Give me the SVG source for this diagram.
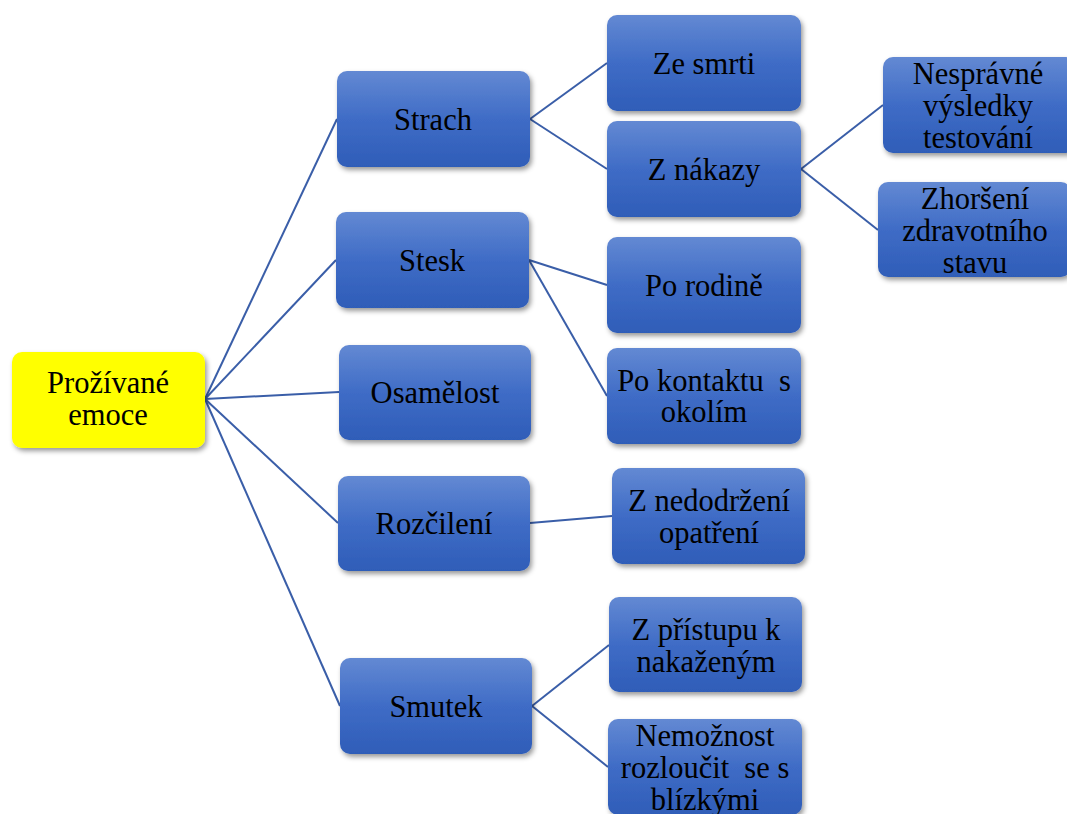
<svg xmlns="http://www.w3.org/2000/svg" width="1067" height="814" viewBox="0 0 1067 814">
<style>
.n{fill:url(#bg);filter:url(#sh)}
.r{fill:#ffff00;filter:url(#sh)}
text{font-family:"Liberation Serif","DejaVu Serif",serif;font-size:30.5px;fill:#000;text-anchor:middle}
.c line{stroke:#3a5ea8;stroke-width:2;fill:none}
</style>
<defs>
<linearGradient id="bg" x1="0" y1="0" x2="0" y2="1">
<stop offset="0" stop-color="#6389d3"/>
<stop offset="0.5" stop-color="#3f6cc6"/>
<stop offset="1" stop-color="#2f5db8"/>
</linearGradient>
<filter id="sh" x="-10%" y="-10%" width="125%" height="130%">
<feDropShadow dx="2" dy="3" stdDeviation="2.5" flood-color="#000" flood-opacity="0.4"/>
</filter>
</defs>
<rect width="1067" height="814" fill="#fff"/>
<g class="c" id="connectors">
<line x1="205" y1="399" x2="337" y2="119"/>
<line x1="205" y1="399" x2="336" y2="260"/>
<line x1="205" y1="399" x2="339" y2="392"/>
<line x1="205" y1="399" x2="338" y2="523"/>
<line x1="205" y1="399" x2="340" y2="706"/>
<line x1="530" y1="119" x2="607" y2="63"/>
<line x1="530" y1="119" x2="607" y2="169"/>
<line x1="801" y1="169" x2="883" y2="105"/>
<line x1="801" y1="169" x2="878" y2="230"/>
<line x1="529" y1="260" x2="607" y2="285"/>
<line x1="529" y1="260" x2="607" y2="396"/>
<line x1="530" y1="523" x2="612" y2="516"/>
<line x1="532" y1="706" x2="609" y2="645"/>
<line x1="532" y1="706" x2="608" y2="767"/>
</g>
<g font-family="Liberation Serif, DejaVu Serif, serif">
<g id="root"><rect class="r" x="12" y="352" width="193" height="96" rx="10"/><text x="108" y="393">Prožívané</text><text x="108" y="425">emoce</text></g>
<g id="strach"><rect class="n" x="337" y="71" width="193" height="96" rx="10"/><text x="433" y="130">Strach</text></g>
<g id="stesk"><rect class="n" x="336" y="212" width="193" height="96" rx="10"/><text x="432" y="271">Stesk</text></g>
<g id="osamelost"><rect class="n" x="339" y="345" width="192" height="95" rx="10"/><text x="435" y="403">Osamělost</text></g>
<g id="rozcileni"><rect class="n" x="338" y="476" width="192" height="95" rx="10"/><text x="434" y="534">Rozčilení</text></g>
<g id="smutek"><rect class="n" x="340" y="658" width="192" height="96" rx="10"/><text x="436" y="717">Smutek</text></g>
<g id="zesmrti"><rect class="n" x="607" y="15" width="194" height="96" rx="10"/><text x="704" y="74">Ze smrti</text></g>
<g id="znakazy"><rect class="n" x="607" y="121" width="194" height="96" rx="10"/><text x="704" y="180">Z nákazy</text></g>
<g id="nespravne"><rect class="n" x="883" y="57" width="193" height="96" rx="10"/><text x="978" y="84">Nesprávné</text><text x="978" y="116">výsledky</text><text x="978" y="148">testování</text></g>
<g id="zhorseni"><rect class="n" x="878" y="182" width="193" height="95" rx="10"/><text x="975" y="209">Zhoršení</text><text x="975" y="241">zdravotního</text><text x="975" y="273">stavu</text></g>
<g id="porodine"><rect class="n" x="607" y="237" width="194" height="96" rx="10"/><text x="704" y="296">Po rodině</text></g>
<g id="pokontaktu"><rect class="n" x="607" y="348" width="194" height="96" rx="10"/><text x="704" y="391" xml:space="preserve">Po kontaktu  s</text><text x="704" y="422">okolím</text></g>
<g id="znedodrzeni"><rect class="n" x="612" y="468" width="193" height="96" rx="10"/><text x="709" y="511">Z nedodržení</text><text x="709" y="543">opatření</text></g>
<g id="zpristupu"><rect class="n" x="609" y="597" width="193" height="95" rx="10"/><text x="706" y="640">Z přístupu k</text><text x="706" y="672">nakaženým</text></g>
<g id="nemoznost"><rect class="n" x="608" y="719" width="194" height="96" rx="10"/><text x="705" y="746">Nemožnost</text><text x="705" y="778" xml:space="preserve">rozloučit  se s</text><text x="705" y="810">blízkými</text></g>
</g>
</svg>
